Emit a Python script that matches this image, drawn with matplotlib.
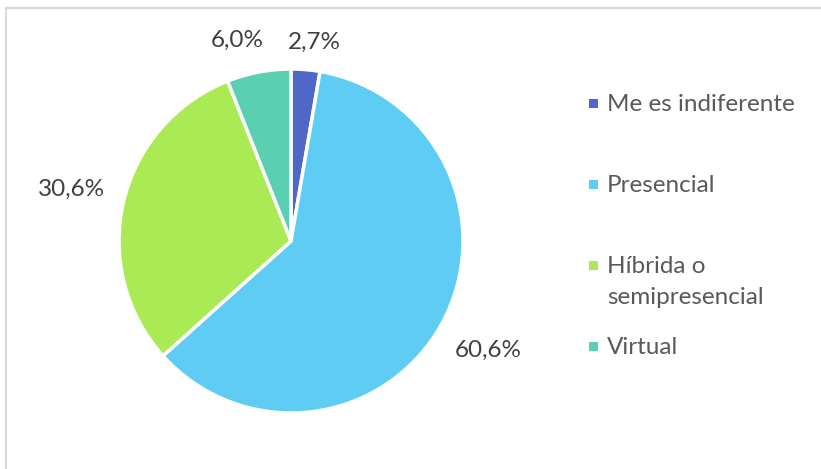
import numpy as np
import matplotlib.pyplot as plt
from matplotlib.patches import Rectangle
from matplotlib.lines import Line2D

categorias = ['Me es indiferente', 'Presencial', 'Híbrida o\nsemipresencial', 'Virtual']
porcentajes = [2.7, 60.6, 30.6, 6.0]
etiquetas = ['2,7%', '60,6%', '30,6%', '6,0%']
colores = ['#4F68C8', '#5FCDF3', '#A9EA55', '#5BCFB2']

plt.rcParams['font.family'] = ['Lato', 'DejaVu Sans']

fig = plt.figure(figsize=(8.21, 4.69), dpi=100)
W, H = 821, 469

# marco gris (solo arriba e izquierda visibles)
fig.add_artist(Line2D([6 / W, 1], [1 - 8 / H, 1 - 8 / H], color='#D9D9D9', lw=1.5))
fig.add_artist(Line2D([6 / W, 6 / W], [0, 1 - 8 / H], color='#D9D9D9', lw=1.5))

cx, cy, r = 291, 241, 172
ax = fig.add_axes([(cx - r) / W, (H - cy - r) / H, 2 * r / W, 2 * r / H])
wedges, _ = ax.pie(porcentajes, colors=colores, startangle=90, counterclock=False,
                   wedgeprops=dict(edgecolor='white', linewidth=2.5), radius=1)
ax.set_xlim(-1, 1)
ax.set_ylim(-1, 1)
ax.set_aspect('equal')
ax.axis('off')

distancias = [1.16, 1.31, 1.31, 1.19]
desplaz = [(5, 0), (0, 0), (0, 0), (-11, 0)]  # puntos
for w, txt, d, off in zip(wedges, etiquetas, distancias, desplaz):
    ang = np.deg2rad((w.theta1 + w.theta2) / 2)
    ax.annotate(txt, (d * np.cos(ang), d * np.sin(ang)), xytext=off,
                textcoords='offset points', ha='center', va='center',
                fontsize=17.5, color='#404040', annotation_clip=False)

# leyenda manual
ys = [103, 184, 265, 346]
for cat, col, y in zip(categorias, colores, ys):
    fig.add_artist(Rectangle((589 / W, 1 - (y + 5) / H), 9 / W, 9 / H,
                             facecolor=col, edgecolor='none'))
    fig.text(607 / W, 1 - (y - 9) / H, cat, ha='left', va='top', fontsize=17.5,
             color='#595959', linespacing=1.6)

fig.savefig('out.png', dpi=100)
